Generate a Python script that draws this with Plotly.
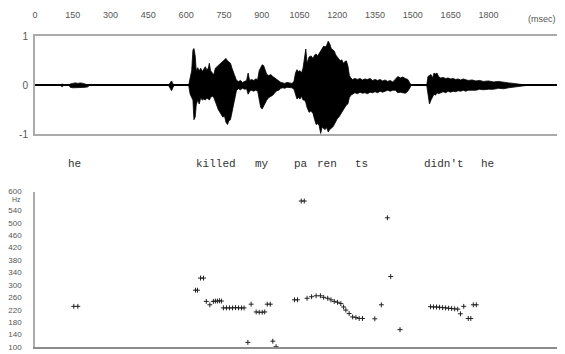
import plotly.graph_objects as go

# ---------------- data ----------------
# waveform envelope (time in ms, upper / lower amplitude)
wave_t = [0, 100, 108, 114, 135, 140, 150, 160, 170, 180, 190, 200, 210, 216,
          530, 537, 542, 547, 553,
          610, 616, 622, 627, 631, 636, 640, 646, 652, 658, 664, 670, 676, 682, 688, 692, 697,
          704, 710, 716, 722, 728, 734, 740, 746, 752, 758, 764, 770, 776, 782, 788, 794,
          800, 808, 816, 824, 832, 840, 846, 852, 860, 868, 876, 884, 890, 896, 902, 908,
          914, 920, 928, 936, 944, 952, 960, 968, 976, 984, 992, 1000, 1010, 1020, 1028,
          1034, 1040, 1046, 1052, 1058, 1064, 1070, 1075, 1080, 1088, 1096, 1104, 1110,
          1116, 1122, 1128, 1134, 1140, 1146, 1152, 1158, 1164, 1170, 1176, 1182, 1188,
          1194, 1200, 1206, 1212, 1218, 1224, 1230, 1236, 1242, 1248, 1254, 1260, 1270,
          1280, 1290, 1300, 1310, 1320, 1330, 1340, 1350, 1360, 1370, 1380, 1390, 1400,
          1410, 1420, 1430, 1440, 1450, 1460, 1470, 1480, 1488, 1494,
          1555, 1560, 1566, 1572, 1578, 1584, 1590, 1596, 1602, 1610, 1620, 1630, 1640,
          1650, 1660, 1670, 1680, 1690, 1700, 1710, 1720, 1735, 1750, 1765, 1780, 1800,
          1820, 1840, 1860, 1880, 1900, 1920, 1945, 1955, 2110]
wave_hi = [0, 0, 0.03, 0, 0, 0.03, 0.04, 0.05, 0.04, 0.05, 0.04, 0.03, 0.02, 0,
           0, 0.05, 0.09, 0.04, 0,
           0, 0.2, 0.3, 0.72, 0.75, 0.6, 0.3, 0.36, 0.3, 0.35, 0.28, 0.33, 0.38, 0.32, 0.35, 0.45, 0.3,
           0.25, 0.22, 0.35, 0.38, 0.42, 0.45, 0.48, 0.5, 0.52, 0.55, 0.5, 0.48, 0.45, 0.35, 0.25, 0.18,
           0.1, 0.08, 0.1, 0.06, 0.08, 0.1, 0.25, 0.1, 0.12, 0.1, 0.13, 0.12, 0.3, 0.38, 0.42, 0.4,
           0.3, 0.22, 0.2, 0.22, 0.18, 0.15, 0.12, 0.1, 0.06, 0.05, 0.04, 0.06, 0.05, 0.04, 0.08,
           0.25, 0.32, 0.28, 0.3, 0.25, 0.35, 0.55, 0.74, 0.45, 0.58, 0.6, 0.55, 0.62,
           0.64, 0.6, 0.65, 0.7, 0.75, 0.8, 0.78, 0.82, 0.9, 0.85, 0.75, 0.72, 0.7,
           0.62, 0.58, 0.55, 0.5, 0.52, 0.45, 0.48, 0.5, 0.4, 0.2, 0.15, 0.12, 0.14,
           0.12, 0.14, 0.11, 0.13, 0.12, 0.14, 0.1, 0.12, 0.1, 0.12, 0.09, 0.11, 0.08,
           0.1, 0.07, 0.12, 0.18, 0.15, 0.17, 0.14, 0.12, 0.05, 0,
           0, 0.18, 0.2, 0.22, 0.15, 0.25, 0.23, 0.25, 0.18, 0.15, 0.16, 0.14, 0.15,
           0.13, 0.14, 0.12, 0.13, 0.11, 0.13, 0.12, 0.1, 0.11, 0.09, 0.1, 0.08, 0.09,
           0.07, 0.08, 0.06, 0.05, 0.04, 0.03, 0.02, 0, 0]
wave_lo = [0, 0, -0.03, 0, 0, -0.04, -0.05, -0.05, -0.05, -0.04, -0.05, -0.04, -0.03, 0,
           0, -0.06, -0.11, -0.05, 0,
           0, -0.18, -0.25, -0.3, -0.7, -0.65, -0.4, -0.3, -0.38, -0.25, -0.3, -0.28, -0.3, -0.26, -0.28, -0.3, -0.25,
           -0.22, -0.25, -0.35, -0.45, -0.5, -0.55, -0.6, -0.65, -0.62, -0.75, -0.8, -0.72, -0.7, -0.55, -0.4, -0.3,
           -0.1, -0.07, -0.09, -0.06, -0.08, -0.07, -0.18, -0.12, -0.1, -0.12, -0.1, -0.12, -0.3, -0.45, -0.48, -0.42,
           -0.35, -0.3, -0.25, -0.22, -0.2, -0.15, -0.11, -0.1, -0.06, -0.05, -0.06, -0.04, -0.05, -0.05, -0.08,
           -0.2, -0.28, -0.25, -0.28, -0.22, -0.3, -0.3, -0.35, -0.45, -0.55, -0.52, -0.58, -0.7,
           -0.8, -0.78, -0.82, -0.98, -0.85, -0.88, -0.9, -0.86, -0.95, -0.9, -0.88, -0.85, -0.8,
           -0.72, -0.68, -0.65, -0.6, -0.55, -0.5, -0.45, -0.4, -0.38, -0.25, -0.2, -0.18, -0.15,
           -0.17, -0.14, -0.16, -0.15, -0.17, -0.14, -0.15, -0.13, -0.15, -0.12, -0.14, -0.12, -0.1,
           -0.12, -0.1, -0.1, -0.15, -0.14, -0.15, -0.16, -0.12, -0.05, 0,
           0, -0.2, -0.38, -0.3, -0.25, -0.18, -0.2, -0.15, -0.17, -0.15, -0.13, -0.15, -0.12,
           -0.14, -0.12, -0.13, -0.11, -0.12, -0.1, -0.12, -0.1, -0.1, -0.1, -0.08, -0.09, -0.08,
           -0.08, -0.06, -0.07, -0.05, -0.04, -0.03, -0.02, 0, 0]

# pitch (F0) points: time ms, frequency Hz
pitch_t = [154, 170, 637, 645, 657, 669, 680, 694, 708, 716, 724, 732, 740,
           748, 760, 772, 784, 796, 808, 820, 830, 845, 858, 878, 890, 902, 912,
           922, 934, 944, 957, 1030, 1042, 1057, 1069,
           1080, 1098, 1116, 1133, 1146, 1162, 1175, 1188, 1201, 1214, 1225, 1234,
           1247, 1261, 1274, 1287, 1300, 1349, 1375, 1399, 1412, 1449,
           1570, 1582, 1594, 1606, 1618, 1630, 1642, 1654, 1666, 1678,
           1689, 1702, 1720, 1730, 1740, 1752]
pitch_hz = [231, 231, 283, 283, 322, 322, 247, 236, 247, 248, 248, 249, 248,
            226, 226, 226, 226, 227, 226, 226, 226, 115, 238, 213, 212, 212, 213,
            238, 238, 119, 101, 252, 252, 570, 570,
            257, 262, 265, 265, 260, 257, 252, 247, 244, 240, 229, 219,
            208, 197, 195, 192, 192, 191, 236, 516, 327, 156,
            230, 229, 229, 228, 227, 226, 225, 224, 223, 222,
            207, 231, 192, 192, 236, 236]

time_ticks = [0, 150, 300, 450, 600, 750, 900, 1050, 1200, 1350, 1500, 1650, 1800]
time_labels = ["0", "150", "300", "450", "600", "750", "900", "1050", "1200",
               "1350", "1500", "1650", "1800"]
amp_ticks = [-1, 0, 1]
amp_labels = ["-1", "0", "1"]
hz_ticks = [100, 140, 180, 220, 260, 300, 340, 380, 420, 460, 500, 540, 600]
hz_labels = [str(v) for v in hz_ticks]

words = ["he", "killed", "my", "pa", "ren", "ts", "didn't", "he"]
word_t = [156, 720, 902, 1056, 1159, 1297, 1622, 1796]

# ---------------- figure ----------------
# the page body has an 8px default margin, so the figure is 8px smaller
W, H = 557, 346
GREY = "#ababab"
NARROW = "Liberation Sans Narrow, Arial Narrow, sans-serif"
TICKFONT = dict(family=NARROW, size=9, color="#555555")

fig = go.Figure()
fig.add_trace(go.Scatter(x=wave_t, y=wave_lo, mode="lines",
                         line=dict(color="black", width=0.8),
                         xaxis="x", yaxis="y", hoverinfo="skip", showlegend=False))
fig.add_trace(go.Scatter(x=wave_t, y=wave_hi, mode="lines", fill="tonexty",
                         fillcolor="black", line=dict(color="black", width=0.8),
                         xaxis="x", yaxis="y", hoverinfo="skip", showlegend=False))
fig.add_trace(go.Scatter(x=pitch_t, y=pitch_hz, mode="markers",
                         marker=dict(symbol="cross-thin", size=3.5,
                                     line=dict(color="#222222", width=1), color="#222222"),
                         xaxis="x2", yaxis="y2", showlegend=False))

XMAX = 2104
top_dom = [1 - 125 / H, 1 - 24 / H]
bot_dom = [1 - 344 / H, 1 - 184 / H]

fig.update_layout(
    width=W, height=H,
    margin=dict(l=25, r=0, t=0, b=0),
    paper_bgcolor="white", plot_bgcolor="white",
    showlegend=False,
    xaxis=dict(domain=[0, 1], anchor="y", side="top", range=[0, XMAX],
               tickvals=time_ticks, ticktext=time_labels, tickfont=TICKFONT,
               ticks="", ticklabelstandoff=13,
               showline=True, linecolor=GREY, linewidth=2, mirror=True,
               showgrid=False, zeroline=False),
    yaxis=dict(domain=top_dom, anchor="x", range=[-1, 1],
               tickvals=amp_ticks, ticktext=amp_labels,
               tickfont=dict(family=NARROW, size=10, color="#555555"),
               ticks="", ticklabelstandoff=3,
               showline=True, linecolor=GREY, linewidth=2,
               showgrid=False, zeroline=True, zerolinecolor="black", zerolinewidth=1.5),
    xaxis2=dict(domain=[0, 1], anchor="y2", matches="x", range=[0, XMAX],
                showticklabels=False, ticks="",
                showline=True, linecolor="#8c8c8c", linewidth=2,
                showgrid=False, zeroline=False),
    yaxis2=dict(domain=bot_dom, anchor="x2", range=[100, 600],
                tickvals=hz_ticks, ticktext=hz_labels,
                tickfont=dict(family=NARROW, size=8, color="#555555"),
                ticks="", ticklabelstandoff=10,
                showline=True, linecolor=GREY, linewidth=1.5,
                showgrid=False, zeroline=False),
)

annotations = []
for w, t in zip(words, word_t):
    annotations.append(dict(x=t, y=1 - 155 / H, xref="x", yref="paper", text=w,
                            showarrow=False, xanchor="center", yanchor="middle",
                            font=dict(family="Liberation Mono, DejaVu Sans Mono, monospace",
                                      size=11, color="#333333")))
annotations.append(dict(x=2013, y=1 - 6 / H, xref="x", yref="paper", text="(msec)",
                        showarrow=False, xanchor="center", yanchor="middle",
                        font=dict(family=NARROW, size=9, color="#555555")))
annotations.append(dict(x=(14 - 33) / 532, y=574, xref="paper", yref="y2", text="Hz",
                        showarrow=False, xanchor="center", yanchor="middle",
                        font=dict(family=NARROW, size=7, color="#555555")))
fig.update_layout(annotations=annotations)

fig.write_html("out.html")
